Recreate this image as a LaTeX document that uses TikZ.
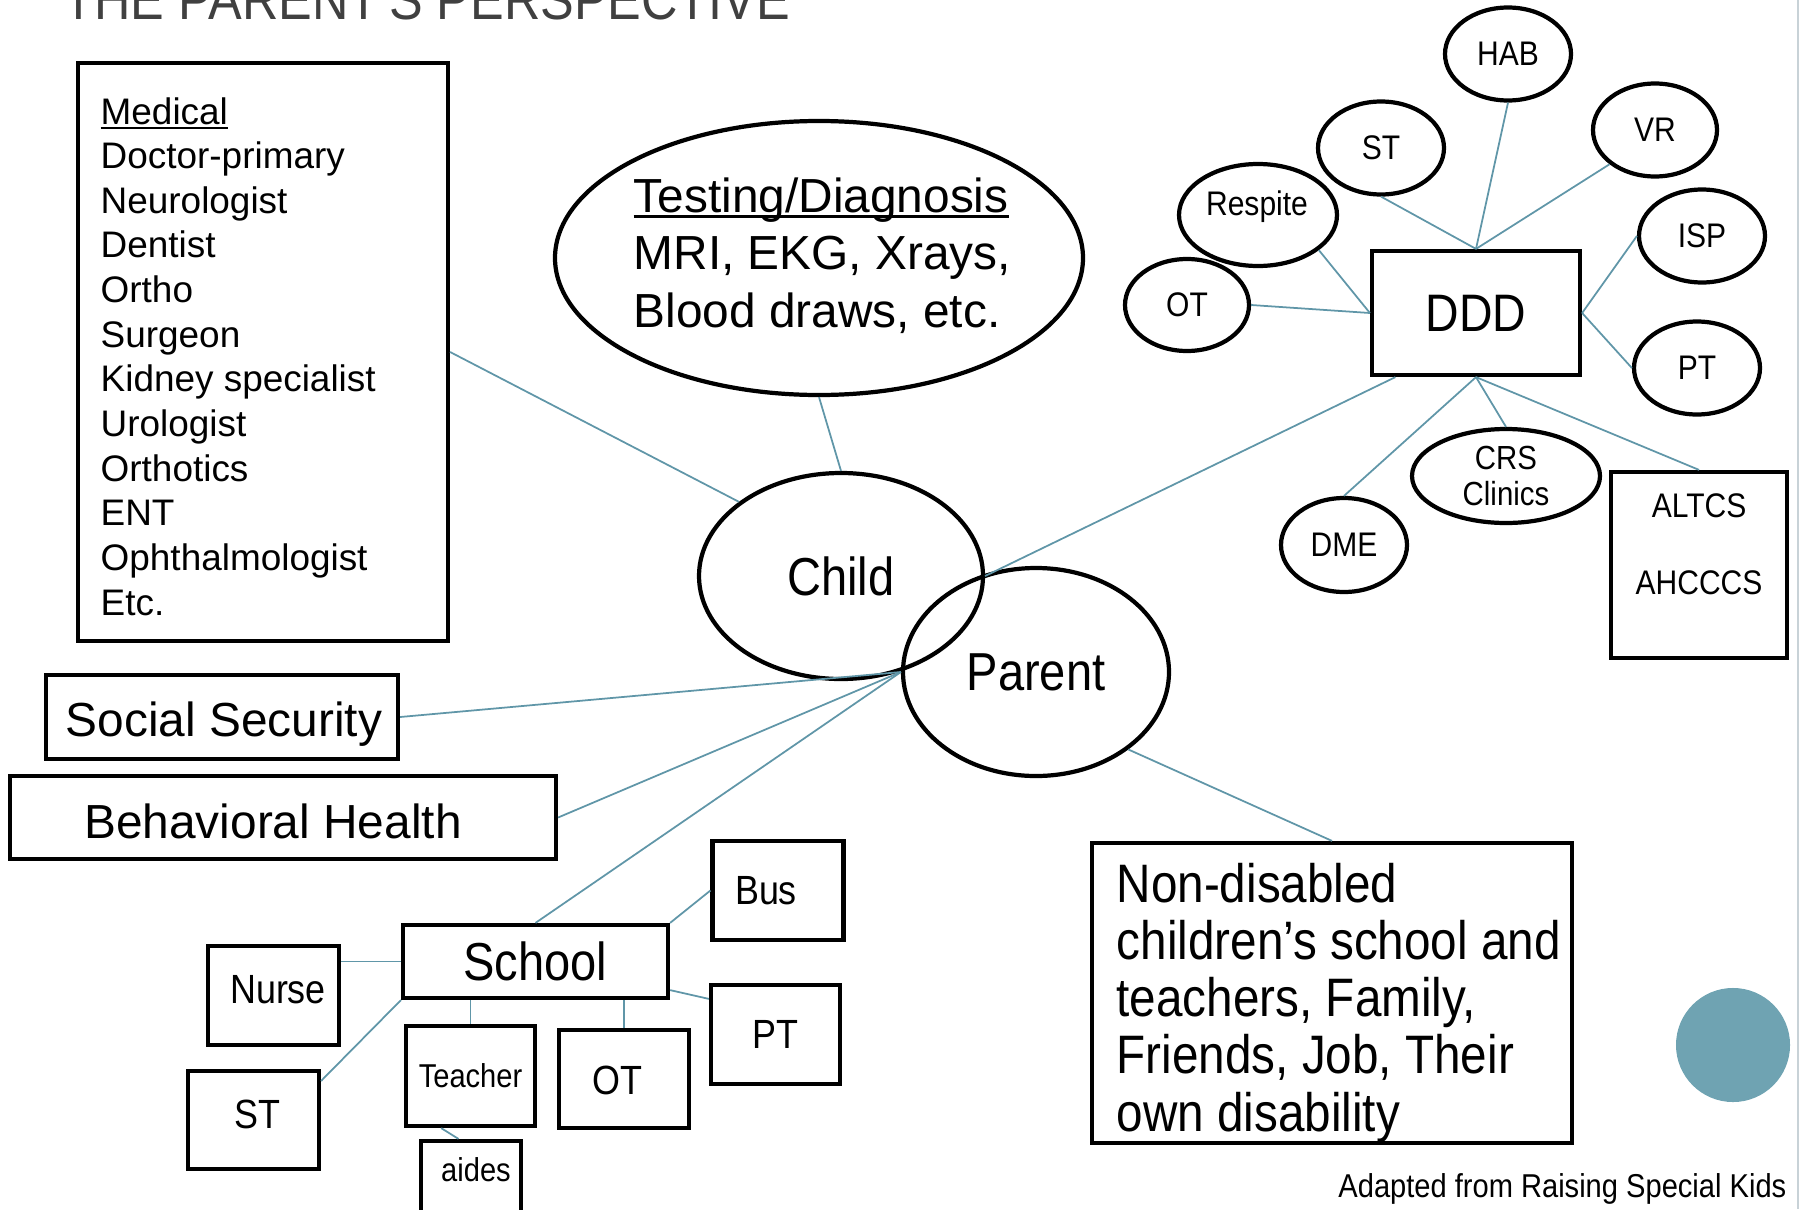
\documentclass[tikz,border=0pt]{standalone}
\usepackage{fontspec}
\setmainfont{Liberation Sans}
\newfontfamily\cfont[FakeStretch=0.88]{Liberation Sans}
\usetikzlibrary{shapes.geometric,calc}
\definecolor{connc}{RGB}{96,150,168}
\definecolor{tealdot}{RGB}{111,163,178}
\definecolor{titlegray}{RGB}{64,64,64}
\definecolor{edgegray}{RGB}{200,210,215}
\newcommand\setfs[2]{\fontsize{#1}{#2}\selectfont}
\newcommand\myul[1]{\leavevmode\setbox0\hbox{#1}\rlap{\rule[-0.13em]{\wd0}{0.06em}}\box0}
\begin{document}
\begin{tikzpicture}[x=0.01cm,y=-0.01cm,
  sz/.style 2 args={minimum width={#1*0.01cm},minimum height={#2*0.01cm}},
  box/.style={draw=black,line width=1.2pt,rectangle,inner sep=0pt},
  oval/.style={draw=black,line width=1.2pt,ellipse,inner sep=0pt},
  small/.style={oval,font=\cfont\setfs{9.7}{11}},
  sbox/.style={box,font=\cfont\setfs{11.6}{13}},
  conn/.style={draw=connc,line width=0.5pt},
  txt/.style={inner sep=0pt}]
\useasboundingbox (0,0) rectangle (1800,1209);
\clip (0,0) rectangle (1800,1209);

% title (cut off at top, as in the reference)
\node[txt,anchor=base west,text=titlegray] (title) at (63,20) {\cfont\setfs{16.3}{19}THE PARENT'S PERSPECTIVE};

% slide edge
\draw[edgegray,line width=0.6pt] (1798,0) -- (1798,1209);

% Medical
\node[box,sz={370}{578}] (med) at (263,352) {};
\node[txt,anchor=base west] (medtxt) at (100,124) {\parbox[t]{8cm}{\setfs{10.5}{12.7}\myul{Medical}\\Doctor-primary\\Neurologist\\Dentist\\Ortho\\Surgeon\\Kidney specialist\\Urologist\\Orthotics\\ENT\\Ophthalmologist\\Etc.}};

% Testing
\node[oval,sz={528}{274}] (test) at (819,258) {};
\node[txt,anchor=base west] (testtxt) at (633,212) {\parbox[t]{6cm}{\setfs{13.6}{16.4}\myul{Testing/Diagnosis}\\MRI, EKG, Xrays,\\Blood draws, etc.}};

% Child & Parent
\node[oval,sz={284}{206},font=\cfont\setfs{15.2}{18}] (child) at (841,576) {Child};
\node[oval,sz={266}{208},font=\cfont\setfs{15.2}{18}] (parent) at (1036,672) {Parent};

% DDD cluster
\node[box,sz={208}{124},font=\cfont\setfs{15}{18}] (ddd) at (1476,313) {DDD};
\node[small,sz={124}{92}] (ot) at (1187,305) {OT};
\node[small,sz={158}{102}] (respite) at (1258,215) {};
\node[txt,font=\cfont\setfs{9.7}{11}] (respitetxt) at (1257,207) {Respite};
\node[small,sz={126}{93}] (st) at (1381,148) {ST};
\node[small,sz={126}{93}] (hab) at (1508,54) {HAB};
\node[small,sz={124}{93}] (vr) at (1655,130) {VR};
\node[small,sz={126}{93}] (isp) at (1702,236) {ISP};
\node[small,sz={126}{93}] (pt) at (1697,368) {PT};
\node[small,sz={188}{94},align=center,font=\cfont\setfs{9.5}{10.3}] (crs) at (1506,476) {CRS\\Clinics};
\node[small,sz={126}{94}] (dme) at (1344,545) {DME};
\node[box,sz={176}{186}] (altcs) at (1699,565) {};
\node[txt,font=\cfont\setfs{9.7}{11}] (altcstxt) at (1699,506) {ALTCS};
\node[txt,font=\cfont\setfs{9.7}{11}] (ahcccstxt) at (1699,583) {AHCCCS};

% left boxes
\node[box,sz={352}{84}] (ss) at (222,717) {};
\node[txt,font=\setfs{13.6}{16}] (sstxt) at (224,724) {Social Security};
\node[box,sz={546}{83}] (bh) at (283,817.5) {};
\node[txt,font=\setfs{13.6}{16}] (bhtxt) at (273,821) {Behavioral Health};

% School cluster
\node[box,sz={265}{73},font=\cfont\setfs{15.2}{18}] (school) at (535.5,961.5) {School};
\node[sbox,sz={131}{99}] (bus) at (778,890.5) {};
\node[txt,font=\cfont\setfs{11.6}{13}] (bustxt) at (766,891) {Bus};
\node[sbox,sz={131}{99}] (nurse) at (273.5,995.5) {};
\node[txt,font=\cfont\setfs{11.6}{13}] (nursetxt) at (278,990) {Nurse};
\node[sbox,sz={131}{98}] (sts) at (253.5,1120) {};
\node[txt,font=\cfont\setfs{11.6}{13}] (ststxt) at (257,1114) {ST};
\node[box,sz={129}{100},font=\cfont\setfs{9.4}{11}] (teacher) at (470.5,1076) {Teacher};
\node[sbox,sz={130}{98}] (ots) at (624,1079) {};
\node[txt,font=\cfont\setfs{11.6}{13}] (otstxt) at (617,1080) {OT};
\node[sbox,sz={129}{99}] (pts) at (775.5,1034.5) {PT};
\node[box,sz={100}{72}] (aides) at (471,1177) {};
\node[txt,font=\cfont\setfs{9.4}{11}] (aidestxt) at (476,1170) {aides};

% Non-disabled
\node[box,sz={480}{300}] (nd) at (1332,993) {};
\node[txt,anchor=base west] (ndtxt) at (1116,902) {\parbox[t]{6cm}{\cfont\setfs{15.4}{16.3}Non-disabled\\children’s school and\\teachers, Family,\\Friends, Job, Their\\own disability}};

% decoration dot and footer
\node[circle,fill=tealdot,minimum size=1.14cm,inner sep=0pt] (dot) at (1733,1045) {};
\node[txt,anchor=base east,font=\cfont\setfs{9.4}{11}] (foot) at (1787,1197) {Adapted from Raising Special Kids};

% connectors
\draw[conn] (med.east) -- (child.144);
\draw[conn] (test.south) -- (child.north);
\draw[conn] (child.east) -- ($(ddd.south west)!0.12!(ddd.south east)$);
\draw[conn] (parent.west) -- (ss.east);
\draw[conn] (parent.west) -- (bh.east);
\draw[conn] (parent.west) -- (school.north);
\draw[conn] (parent.-40) -- (nd.north);
\draw[conn] (ddd.south) -- (dme.north);
\draw[conn] (ddd.south) -- (crs.north);
\draw[conn] (ddd.south) -- (altcs.north);
\draw[conn] (ddd.north) -- (st.south);
\draw[conn] (ddd.north) -- (hab.south);
\draw[conn] (ddd.north) -- (vr.217);
\draw[conn] (ddd.west) -- (respite.-30);
\draw[conn] (ddd.west) -- (ot.east);
\draw[conn] (ddd.east) -- (isp.west);
\draw[conn] (ddd.east) -- (pt.west);
\draw[conn] (school.west) -- (school.west -| nurse.east);
\draw[conn] (school.south west) -- ($(sts.north east)+(0,12)$);
\draw[conn] (teacher.north) -- (teacher.north |- school.south);
\draw[conn] (ots.north) -- (ots.north |- school.south);
\draw[conn] (school.north east) -- (bus.west);
\draw[conn] ($(school.south east)+(0,-10)$) -- ($(pts.north west)+(0,16)$);
\draw[conn] ($(teacher.south west)!0.28!(teacher.south east)$) -- ($(aides.north west)!0.38!(aides.north east)$);
\end{tikzpicture}
\end{document}
